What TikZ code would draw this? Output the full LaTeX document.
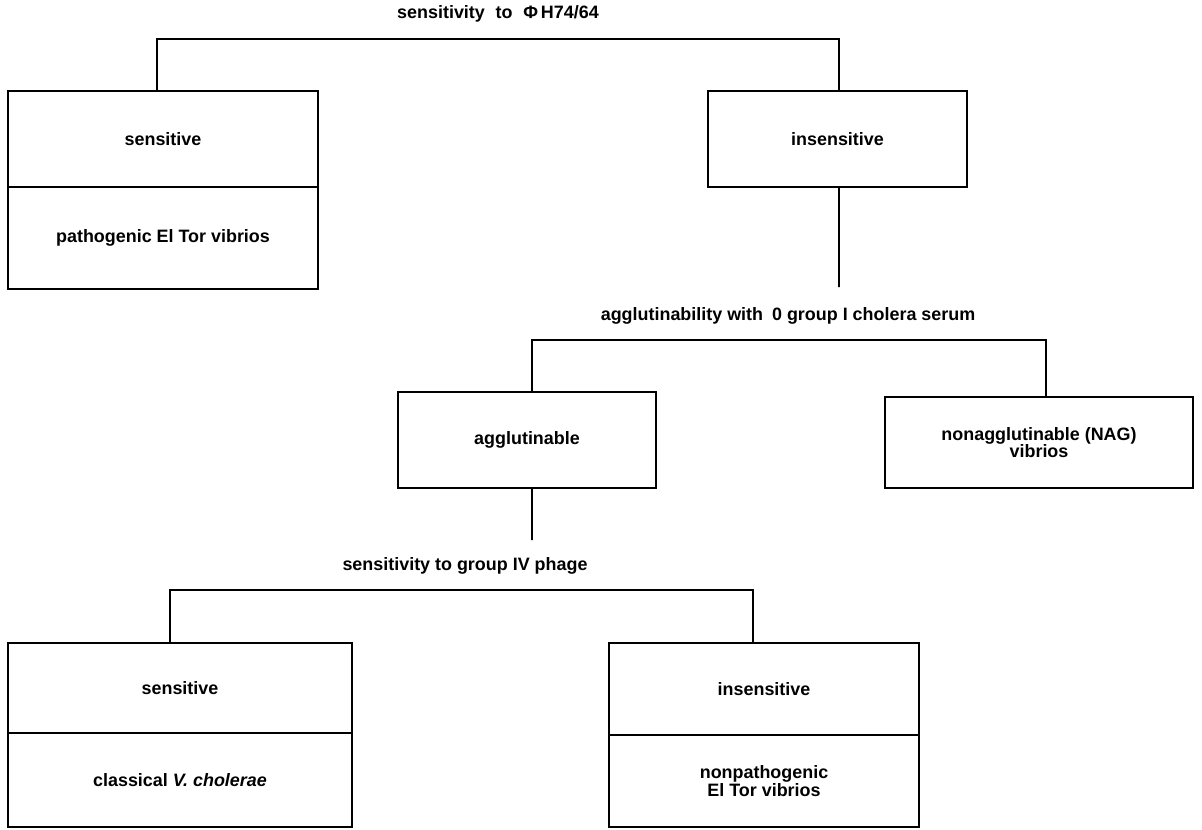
\documentclass[tikz,border=0pt]{standalone}
\usepackage{fontspec}
\setmainfont{Liberation Sans}
\usetikzlibrary{calc}

\tikzset{
	box/.style={draw, line width=1pt, inner sep=0pt, align=center},
	lbl/.style={inner sep=0pt, align=center}
}

\begin{document}
\begin{tikzpicture}[x=0.02cm, y=-0.02cm, line width=1pt, font=\bfseries\fontsize{10.2}{9.8}\selectfont]
	\useasboundingbox (0,0) rectangle (1202,829);

	%labels
	\node[lbl] (phage)  at (498,14)  {sensitivity\hspace{0.6em}to\hspace{0.6em}Φ\,H74/64};
	\node[lbl] (serum)  at (788,316) {agglutinability with\hspace{0.5em}0 group I cholera serum};
	\node[lbl] (group)  at (465,566) {sensitivity to group IV phage};

	%first layer
	\node[box, minimum width=6.2cm,  minimum height=1.92cm] (sensA)   at (163,139)   {sensitive};
	\node[box, minimum width=6.2cm,  minimum height=2.04cm] (pathEl)  at (163,238)   {pathogenic El Tor vibrios};
	\node[box, minimum width=5.18cm, minimum height=1.92cm] (insensA) at (837.5,139) {insensitive};

	%second layer
	\node[box, minimum width=5.16cm, minimum height=1.92cm] (agglut)  at (527,440)    {agglutinable};
	\node[box, minimum width=6.16cm, minimum height=1.82cm] (nag)     at (1039,442.5) {nonagglutinable (NAG)\\vibrios};

	%third layer
	\node[box, minimum width=6.88cm, minimum height=1.8cm]  (sensB)   at (180,688) {sensitive};
	\node[box, minimum width=6.88cm, minimum height=1.88cm] (classic) at (180,780) {classical \textit{V. cholerae}};
	\node[box, minimum width=6.2cm,  minimum height=1.84cm] (insensB) at (764,689) {insensitive};
	\node[box, minimum width=6.2cm,  minimum height=1.84cm] (nonpath) at (764,781) {nonpathogenic\\El Tor vibrios};

	%brackets
	\coordinate (fork1) at (498,39);
	\coordinate (drop1) at (839,287);
	\draw ([xshift=-0.12cm]sensA.north) |- (fork1) -| ([xshift=0.03cm]insensA.north);
	\draw ([xshift=0.03cm]insensA.south) -- (drop1);

	\coordinate (fork2) at (790,340);
	\coordinate (drop2) at (532,540);
	\draw ([xshift=0.1cm]agglut.north) |- (fork2) -| ([xshift=0.14cm]nag.north);
	\draw ([xshift=0.1cm]agglut.south) -- (drop2);

	\coordinate (fork3) at (461,590);
	\draw ([xshift=-0.2cm]sensB.north) |- (fork3) -| ([xshift=-0.22cm]insensB.north);
\end{tikzpicture}
\end{document}
